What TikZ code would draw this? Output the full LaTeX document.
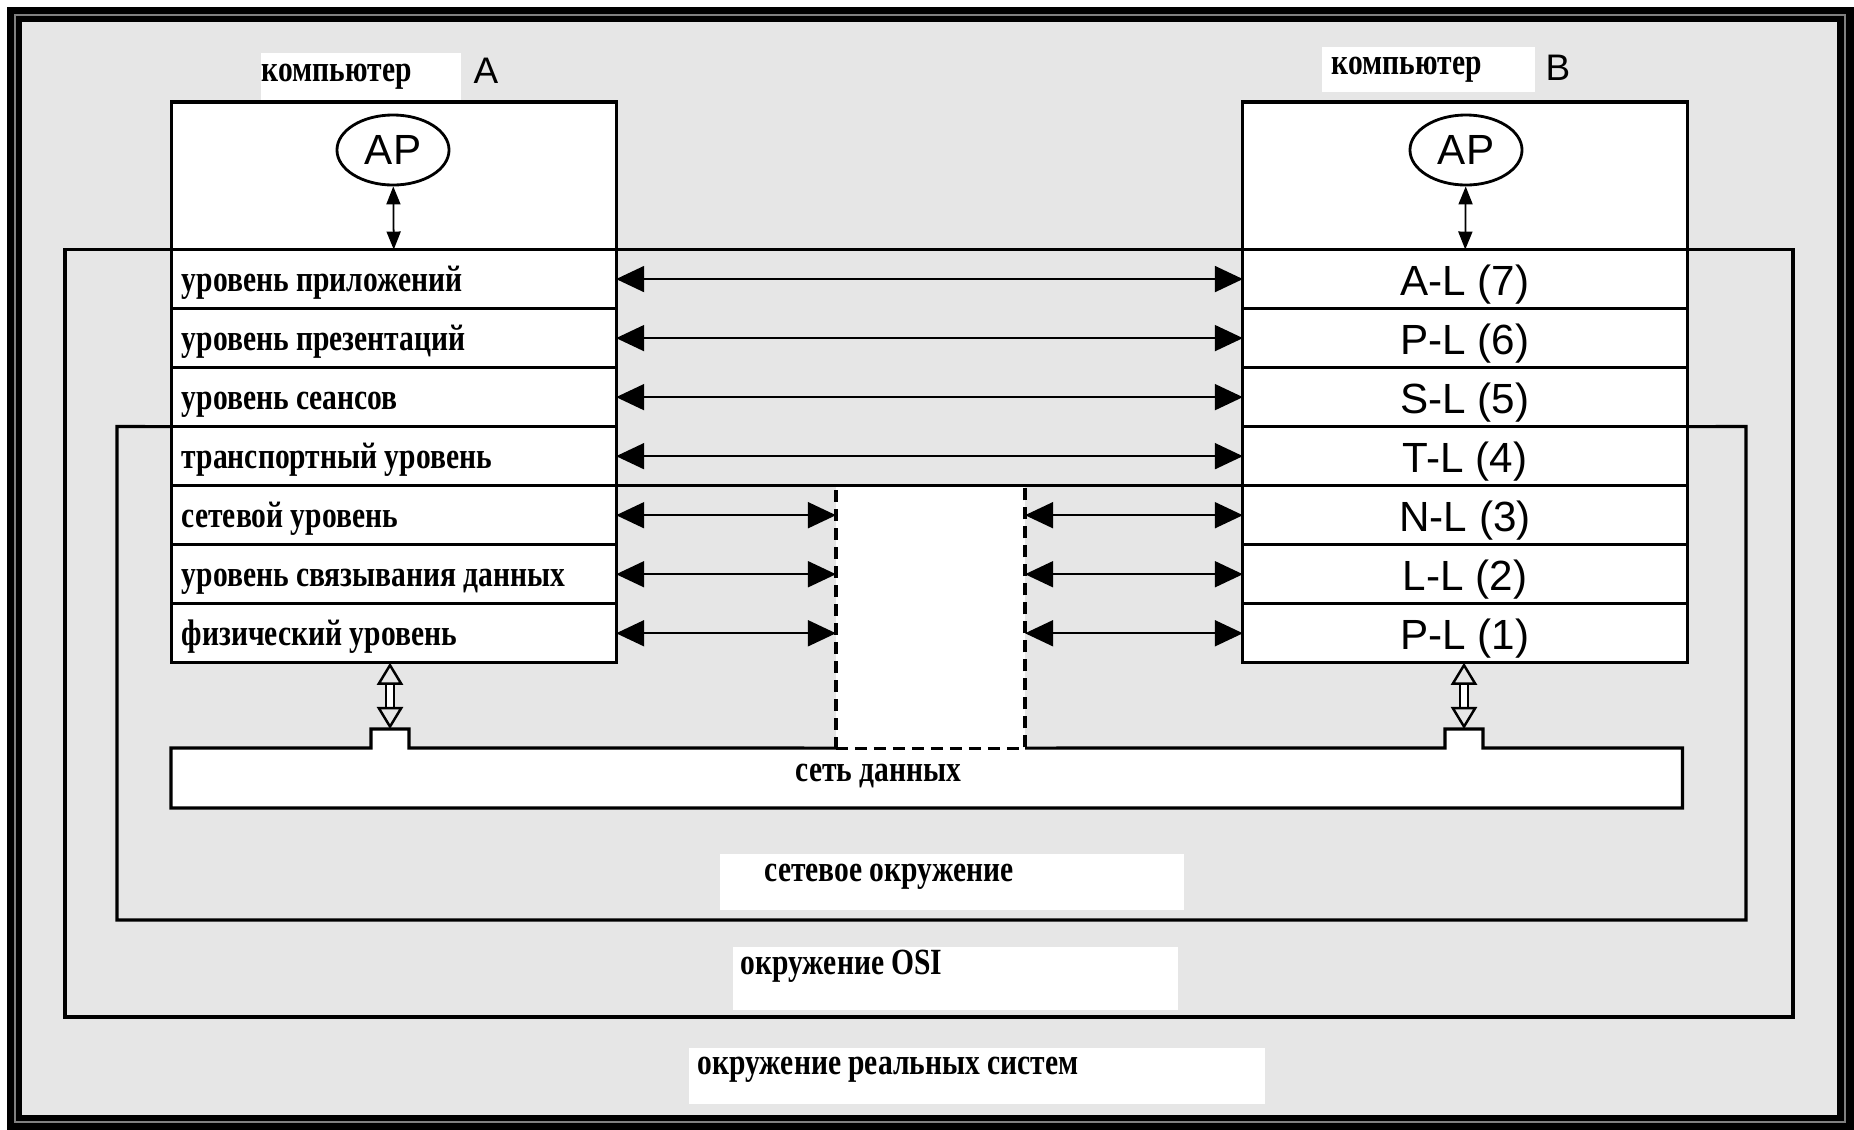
\documentclass[tikz,border=0pt]{standalone}
\usepackage{fontspec}
\usetikzlibrary{arrows.meta,positioning,shapes.geometric}
\newfontfamily\labelfont[FakeStretch=0.8]{Liberation Serif}
\newfontfamily\tagfont{Liberation Sans}
\definecolor{envgrey}{HTML}{E6E6E6}
\newcommand{\lblsize}{\fontsize{10.5}{12}\selectfont}
\newcommand{\tagsize}{\fontsize{12}{14}\selectfont}

\begin{document}
\begin{tikzpicture}[x=0.01cm, y=-0.01cm,
		box/.style={line width=0.9pt, outer sep=0pt},
		compbox/.style={draw, box, fill=white, minimum width=4.44cm, minimum height=1.475cm},
		layerA/.style={draw, box, fill=white, minimum width=4.44cm, minimum height=0.59cm,
			text width=4.24cm, inner xsep=0.1cm, inner ysep=0pt, align=left,
			text height=0.27cm, text depth=0.02cm,
			execute at begin node={\spaceskip=0pt\xspaceskip=0pt},
			font=\labelfont\bfseries\lblsize},
		layerB/.style={draw, box, fill=white, minimum width=4.44cm, minimum height=0.59cm,
			inner sep=0pt, text height=0.33cm, text depth=0.01cm, font=\tagfont\tagsize},
		apnode/.style={ellipse, draw, line width=0.8pt, fill=white, minimum width=1.12cm,
			minimum height=0.7cm, inner sep=0pt, font=\tagfont\tagsize},
		namebox/.style={fill=white, inner ysep=0pt, align=left,
			execute at begin node={\spaceskip=0pt\xspaceskip=0pt},
			font=\labelfont\bfseries\lblsize},
		envlbl/.style={inner sep=0pt, font=\labelfont\bfseries\lblsize},
		tag/.style={inner sep=0pt, font=\tagfont\fontsize{10.5}{12}\selectfont},
		biarrow/.style={line width=0.5pt, {Triangle[length=0.28cm,width=0.26cm]}-{Triangle[length=0.28cm,width=0.26cm]}},
		aparrow/.style={line width=0.5pt, {Triangle[length=0.18cm,width=0.14cm]}-{Triangle[length=0.18cm,width=0.14cm]}},
		hollow/.style={double=white, double distance=0.055cm, line width=0.7pt,
			{Triangle[open,length=0.22cm,width=0.26cm]}-{Triangle[open,length=0.22cm,width=0.26cm]}},
		gapbox/.style={draw, box, dash pattern=on 3.4pt off 2pt, fill=white,
			minimum width=1.89cm, minimum height=2.625cm, inner sep=0pt},
		netbox/.style={fill=white, outer sep=0pt, minimum width=15.105cm, minimum height=0.6cm, inner sep=0pt},
		tab/.style={fill=white, outer sep=0pt, minimum width=0.38cm, minimum height=0.19cm, inner sep=0pt}
		]
	\useasboundingbox (0,0) rectangle (1854,1130);
	\fill[white] (0,0) rectangle (1854,1130);
	\fill[black] (7,7) rectangle (1854,1130);
	\fill[envgrey] (22,22) rectangle (1837,1115);
	\draw[gray, line width=0.3pt] (15,15) rectangle (1845,1122);

	% computer A
	\node[compbox](compA) at (394,175.75){};
	\node[layerA, below=0pt of compA](A7){уровень приложений};
	\node[layerA, below=0pt of A7](A6){уровень презентаций};
	\node[layerA, below=0pt of A6](A5){уровень сеансов};
	\node[layerA, below=0pt of A5](A4){транспортный уровень};
	\node[layerA, below=0pt of A4](A3){сетевой уровень};
	\node[layerA, below=0pt of A3](A2){уровень связывания данных};
	\node[layerA, below=0pt of A2](A1){физический уровень};

	% computer B
	\node[compbox](compB) at (1465,175.75){};
	\node[layerB, below=0pt of compB](B7){A-L (7)};
	\node[layerB, below=0pt of B7](B6){P-L (6)};
	\node[layerB, below=0pt of B6](B5){S-L (5)};
	\node[layerB, below=0pt of B5](B4){T-L (4)};
	\node[layerB, below=0pt of B4](B3){N-L (3)};
	\node[layerB, below=0pt of B3](B2){L-L (2)};
	\node[layerB, below=0pt of B2](B1){P-L (1)};

	% environments
	\draw[box] (65,249.5) rectangle (1793,1017);
	\draw[box] (A4.north west) -- (117,426.5) -- (117,920) -- (1746,920) -- (1746,426.5) -- (B4.north east);

	% names
	\node[namebox, text width=1.98cm, minimum height=0.47cm, inner xsep=0.01cm](pcA) at (361,76.5){компьютер};
	\node[tag](tagA) at (486,71){A};
	\node[namebox, text width=1.93cm, minimum height=0.45cm, inner xsep=0.1cm](pcB) at (1428.5,69.5){компьютер};
	\node[tag](tagB) at (1558,68){B};

	% application processes
	\node[apnode](apA) at (393,150){AP};
	\node[apnode](apB) at (1466,150){AP};
	\draw[aparrow] (apA) -- (A7);
	\draw[aparrow] (apB) -- (B7);

	% peer protocols
	\draw[biarrow] (A7) -- (B7);
	\draw[biarrow] (A6) -- (B6);
	\draw[biarrow] (A5) -- (B5);
	\draw[biarrow] (A4) -- (B4);

	% data network
	\node[netbox](net) at (926.75,778){};
	\node[tab](tabA) at (390,738.5){};
	\node[tab](tabB) at (1464,738.5){};
	\node[gapbox](gap) at (930.5,616.75){};
	\draw[box] (gap.south west) -- (tabA.south east) -- (tabA.north east) -- (tabA.north west)
		-- (tabA.south west) -- (net.north west) -- (net.south west) -- (net.south east)
		-- (net.north east) -- (tabB.south east) -- (tabB.north east) -- (tabB.north west)
		-- (tabB.south west) -- (gap.south east);
	\draw[box] (A4.south east) -- (B4.south west);
	\node[envlbl, anchor=base west](netlbl) at (795,781.5){сеть данных};

	\draw[biarrow] (A3) -- (A3 -| gap.west);
	\draw[biarrow] (A2) -- (A2 -| gap.west);
	\draw[biarrow] (A1) -- (A1 -| gap.west);
	\draw[biarrow] (B3 -| gap.east) -- (B3);
	\draw[biarrow] (B2 -| gap.east) -- (B2);
	\draw[biarrow] (B1 -| gap.east) -- (B1);

	\draw[hollow] (A1.south -| tabA) -- (tabA.north);
	\draw[hollow] (B1.south -| tabB) -- (tabB.north);

	% environment labels
	\fill[white] (720,854) rectangle (1184,910);
	\node[envlbl, anchor=base west](netenv) at (764,881.5){сетевое окружение};
	\fill[white] (733,947) rectangle (1178,1010);
	\node[envlbl, anchor=base west](osienv) at (740,974.5){окружение OSI};
	\fill[white] (689,1048) rectangle (1265,1104);
	\node[envlbl, anchor=base west](realenv) at (697,1074.5){окружение реальных систем};
\end{tikzpicture}
\end{document}
